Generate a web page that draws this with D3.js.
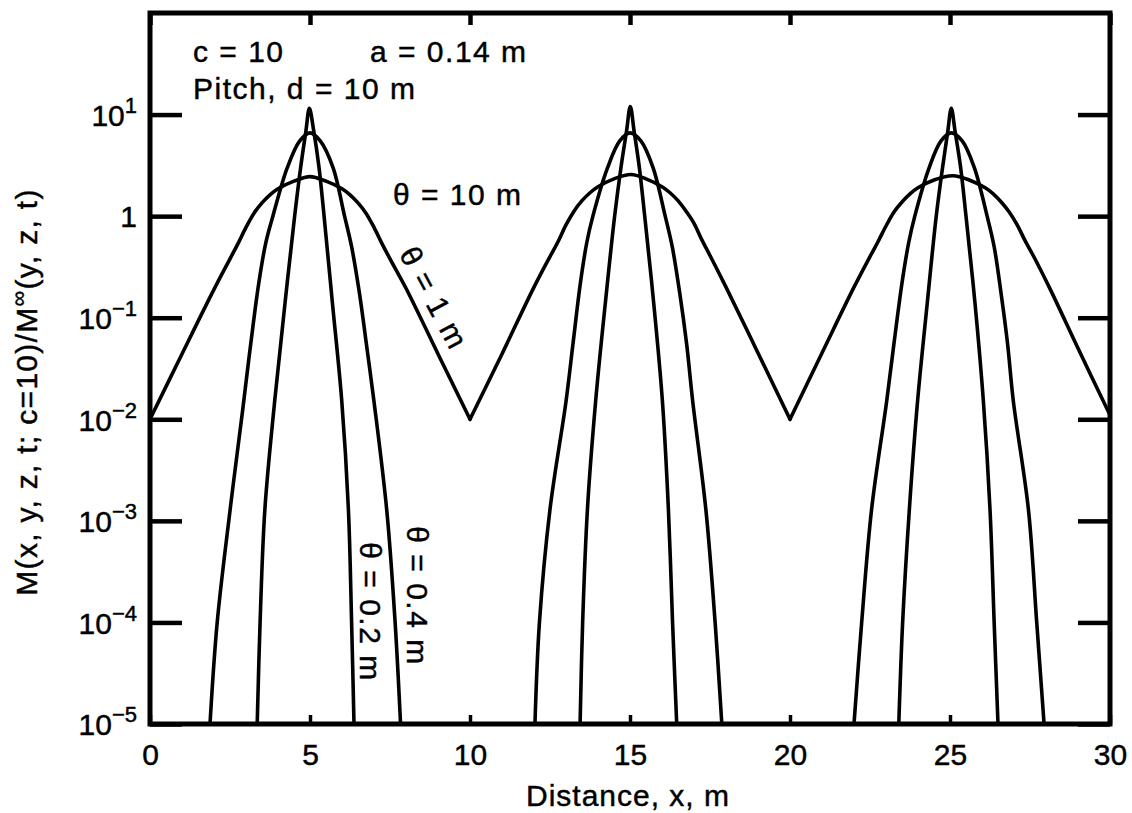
<!DOCTYPE html>
<html>
<head>
<meta charset="utf-8">
<script src="https://cdn.jsdelivr.net/npm/d3@7"></script>
<style>
  body { margin: 0; background: #fff; }
  svg { display: block; }
  text { font-family: "Liberation Sans", Arial, Helvetica, sans-serif; fill: #000; stroke: #000; stroke-width: 0.45px; }
</style>
</head>
<body>
<svg id="chart" width="1132" height="813"></svg>
<script>
// ---------------- data ----------------
const xTickValues = [0, 5, 10, 15, 20, 25, 30];
const yTickValues = [1e-5, 1e-4, 1e-3, 1e-2, 1e-1, 1, 10];

// theta = 10 m : flat at 1
const theta10X = [0, 30];
const theta10V = [1, 1];

// theta = 1 m
const theta1X = [0, 1, 2, 2.5, 2.75, 3, 3.25, 3.5, 3.75, 4, 4.5, 5, 5.5, 6, 6.25, 6.5, 6.75, 7, 7.25, 7.5, 8, 9, 10,
                 11, 12, 12.5, 12.75, 13, 13.25, 13.5, 13.75, 14, 14.5, 15.03, 15.5, 16, 16.25, 16.5, 16.75, 17, 17.25, 17.5, 18, 19, 20,
                 21, 22, 22.5, 22.75, 23, 23.25, 23.5, 23.75, 24, 24.5, 25.09, 25.6, 26.1, 26.35, 26.6, 26.85, 27.1, 27.35, 27.6, 28.1, 29, 30];
const theta1V = [0.01, 0.044, 0.19, 0.38, 0.537, 0.776, 1.07, 1.35, 1.62, 1.86, 2.21, 2.45, 2.21, 1.86, 1.62, 1.35, 1.07, 0.776, 0.537, 0.38, 0.195, 0.044, 0.01,
                 0.044, 0.2, 0.4, 0.56, 0.82, 1.12, 1.42, 1.7, 1.95, 2.33, 2.57, 2.33, 1.95, 1.7, 1.42, 1.12, 0.85, 0.58, 0.41, 0.2, 0.045, 0.01,
                 0.045, 0.2, 0.4, 0.56, 0.8, 1.1, 1.38, 1.66, 1.9, 2.27, 2.5, 2.27, 1.9, 1.66, 1.38, 1.1, 0.82, 0.57, 0.41, 0.2, 0.05, 0.011];

// theta = 0.4 m
const theta04X = [1.875, 2.1, 2.5, 2.9, 3.15, 3.4, 3.62, 3.84, 4.29, 4.68, 5.0, 5.32, 5.72, 6.08, 6.3, 6.55, 6.78, 7.0, 7.4, 7.66, 7.83,
                  12.03, 12.17, 12.5, 13.0, 13.22, 13.45, 13.65, 13.84, 14.3, 14.68, 15.0, 15.34, 15.72, 16.1, 16.32, 16.56, 16.77, 16.96, 17.37, 17.66, 17.87,
                  22.0, 22.24, 22.55, 23.02, 23.25, 23.5, 23.71, 23.9, 24.35, 24.72, 25.04, 25.38, 25.76, 26.16, 26.38, 26.6, 26.8, 26.98, 27.45, 27.71, 27.94];
const theta04V = [1e-5, 1e-4, 1.26e-3, 0.0126, 0.056, 0.22, 0.55, 1, 3.0, 5.5, 6.6, 5.5, 3.0, 1, 0.5, 0.17, 0.05, 0.015, 1.26e-3, 1e-4, 1e-5,
                  1e-5, 1e-4, 1.3e-3, 0.015, 0.056, 0.22, 0.55, 1, 3.0, 5.5, 6.6, 5.5, 3.0, 1, 0.5, 0.17, 0.055, 0.015, 1.3e-3, 1e-4, 1e-5,
                  1e-5, 1e-4, 1.3e-3, 0.015, 0.056, 0.22, 0.55, 1, 3.0, 5.5, 6.6, 5.5, 3.0, 1, 0.5, 0.17, 0.055, 0.015, 1.3e-3, 1e-4, 1e-5];

// theta = 0.2 m
const theta02X = [3.35, 3.44, 3.59, 3.9, 4.22, 4.52, 4.71, 4.87, 4.98, 5.12, 5.28, 5.44, 5.7, 5.99, 6.2, 6.3, 6.375,
                  13.44, 13.52, 13.67, 13.93, 14.23, 14.52, 14.72, 14.89, 15.01, 15.13, 15.29, 15.46, 15.74, 16.01, 16.2, 16.33, 16.46,
                  23.4, 23.52, 23.73, 23.99, 24.29, 24.57, 24.77, 24.93, 25.04, 25.16, 25.33, 25.5, 25.78, 26.04, 26.25, 26.38, 26.5];
const theta02V = [1e-5, 1e-4, 1.3e-3, 0.0155, 0.14, 1, 3.05, 6.8, 11.5, 6.8, 3.05, 1, 0.14, 0.0155, 1.3e-3, 1e-4, 1e-5,
                  1e-5, 1e-4, 1.3e-3, 0.0155, 0.14, 1, 3.05, 6.8, 12, 6.8, 3.05, 1, 0.14, 0.0155, 1.3e-3, 1e-4, 1e-5,
                  1e-5, 1e-4, 1.3e-3, 0.0155, 0.14, 1, 3.05, 6.8, 11.5, 6.8, 3.05, 1, 0.14, 0.0155, 1.3e-3, 1e-4, 1e-5];

// ---------------- chart ----------------
const svg = d3.select("#chart");
const mLeft = 150, mRight = 1110, mTop = 13, mBottom = 724;

const x = d3.scaleLinear().domain([0, 30]).range([mLeft, mRight]);
const y = d3.scaleLog().domain([1e-5, 1e2]).range([mBottom, mTop]);

const zip = (xs, vs) => xs.map((d, i) => ({ x: d, v: vs[i] }));

// split a series into pieces: break at local minima (shared point) and at gaps between peaks
function pieces(pts) {
  const out = [];
  let cur = [pts[0]];
  for (let i = 1; i < pts.length; i++) {
    const p = pts[i];
    if (p.x - pts[i - 1].x > 2) { out.push(cur); cur = [p]; continue; }
    cur.push(p);
    const isMin = i < pts.length - 1 && p.v < pts[i - 1].v && p.v < pts[i + 1].v;
    if (isMin) { out.push(cur); cur = [p]; }
  }
  out.push(cur);
  return out;
}

const line = d3.line().x(d => x(d.x)).y(d => y(d.v)).curve(d3.curveCatmullRom.alpha(0.5));

svg.append("clipPath").attr("id", "clip").append("rect")
  .attr("x", mLeft).attr("y", mTop).attr("width", mRight - mLeft).attr("height", mBottom - mTop);

const curves = svg.append("g").attr("clip-path", "url(#clip)")
  .attr("fill", "none").attr("stroke", "#000").attr("stroke-width", 3.6)
  .attr("stroke-linejoin", "round").attr("stroke-linecap", "round");

[zip(theta10X, theta10V), zip(theta1X, theta1V), zip(theta04X, theta04V), zip(theta02X, theta02V)]
  .forEach(series => {
    pieces(series).forEach(p => curves.append("path").attr("d", line(p)));
  });

// axes (ticks inside)
const gl = svg.append("g").attr("transform", `translate(${mLeft},0)`)
  .call(d3.axisLeft(y).tickValues(yTickValues).tickSize(-32).tickPadding(13));
const gr = svg.append("g").attr("transform", `translate(${mRight},0)`)
  .call(d3.axisRight(y).tickValues(yTickValues).tickSize(-32).tickFormat(""));
const gb = svg.append("g").attr("transform", `translate(0,${mBottom})`)
  .call(d3.axisBottom(x).tickValues(xTickValues).tickSize(-9).tickPadding(20).tickFormat(d3.format("d")));
const gt = svg.append("g").attr("transform", `translate(0,${mTop})`)
  .call(d3.axisTop(x).tickValues(xTickValues).tickSize(-12).tickFormat(""));

[gl, gr, gt].forEach(g => {
  g.select(".domain").remove();
  g.selectAll(".tick line").attr("stroke", "#000").attr("stroke-width", 4.5);
});
gb.select(".domain").remove();
gb.selectAll(".tick line").attr("stroke", "#000").attr("stroke-width", 3.5);
gb.selectAll(".tick text").attr("font-size", 30).attr("font-family", "Liberation Sans, Arial, sans-serif").attr("fill", "#000");

gl.selectAll(".tick text").each(function (d) {
  const t = d3.select(this);
  t.text(null).attr("font-size", 30).attr("font-family", "Liberation Sans, Arial, sans-serif")
    .attr("fill", "#000").attr("dy", "0.36em");
  if (d === 1) { t.text("1"); return; }
  const e = Math.round(Math.log10(d));
  t.append("tspan").text("10");
  t.append("tspan").attr("dy", -13).attr("font-size", 22).text(e < 0 ? "\u2212" + (-e) : String(e));
});

// frame
svg.append("rect").attr("x", mLeft).attr("y", mTop).attr("width", mRight - mLeft).attr("height", mBottom - mTop)
  .attr("fill", "none").attr("stroke", "#000").attr("stroke-width", 5);

// axis titles
svg.append("text").attr("x", (mLeft + mRight) / 2 - 2).attr("y", 806).attr("text-anchor", "middle")
  .attr("font-size", 30).attr("letter-spacing", 1).text("Distance, x, m");

const yt = svg.append("text").attr("transform", `translate(37,392) rotate(-90)`)
  .attr("text-anchor", "middle").attr("font-size", 30).attr("letter-spacing", 1.3);
yt.append("tspan").text("M(x, y, z, t; c=10)/M");
yt.append("tspan").attr("dy", -11).attr("font-size", 22).text("\u221E");
yt.append("tspan").attr("dy", 11).text("(y, z, t)");

// annotations
const ann = svg.append("g").attr("font-size", 30).attr("letter-spacing", 1.5);
ann.append("text").attr("x", 193).attr("y", 62).text("c = 10");
ann.append("text").attr("x", 370).attr("y", 62).text("a = 0.14 m");
ann.append("text").attr("x", 193).attr("y", 99).text("Pitch, d = 10 m");
ann.append("text").attr("x", 393).attr("y", 205).text("\u03B8 = 10 m");
ann.append("text").attr("transform", "translate(434,298) rotate(62)").attr("text-anchor", "middle")
  .attr("dy", "0.35em").text("\u03B8 = 1 m");
ann.append("text").attr("transform", "translate(417,596) rotate(90)").attr("text-anchor", "middle")
  .attr("dy", "0.35em").text("\u03B8 = 0.4 m");
ann.append("text").attr("transform", "translate(370,612) rotate(90)").attr("text-anchor", "middle")
  .attr("dy", "0.35em").text("\u03B8 = 0.2 m");
</script>
</body>
</html>
